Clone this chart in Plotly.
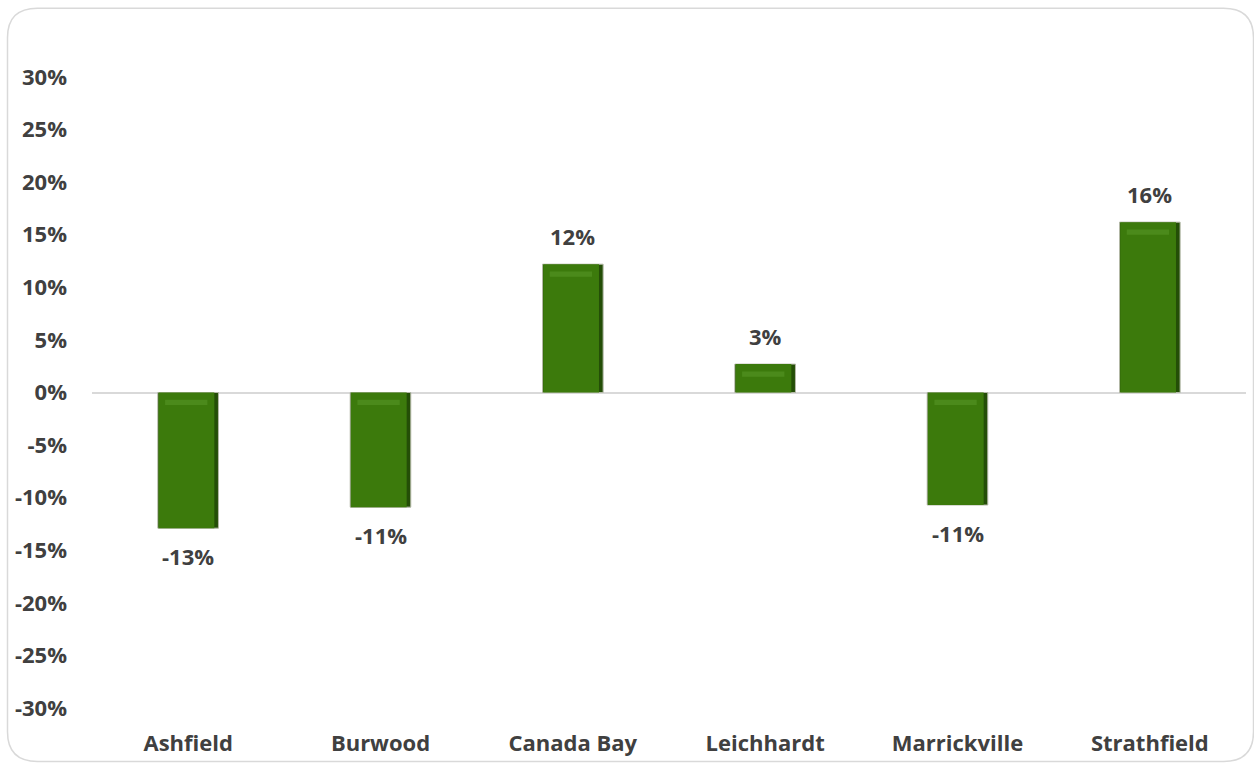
import plotly.graph_objects as go

# Change by council area
councils = ["Ashfield", "Burwood", "Canada Bay", "Leichhardt", "Marrickville", "Strathfield"]
change = [-0.129, -0.109, 0.122, 0.027, -0.107, 0.162]

# Value-axis ticks
tick_values = [-0.30, -0.25, -0.20, -0.15, -0.10, -0.05, 0.0, 0.05, 0.10, 0.15, 0.20, 0.25, 0.30]
tick_labels = ["-30%", "-25%", "-20%", "-15%", "-10%", "-5%", "0%", "5%", "10%", "15%", "20%", "25%", "30%"]

W, H = 1254, 765
ML, MR, MT, MB = 92, 8, 77, 51
FONT = "Open Sans"
TEXT_COL = "#404040"
FS = 22

fig = go.Figure()

# Dark body of each bar (shows as the shaded right-hand edge)
fig.add_trace(go.Bar(
    x=councils, y=change,
    width=0.315, offset=-0.1575,
    marker=dict(color="#244e07", line=dict(color="#b4b8a8", width=1)),
    hoverinfo="skip", showlegend=False,
))
# Lighter face of each bar
fig.add_trace(go.Bar(
    x=councils, y=change,
    width=0.29, offset=-0.154,
    marker=dict(color="#3c7a0c", line=dict(width=0)),
    hoverinfo="skip", showlegend=False,
))
# Soft highlight just inside the upper end of each bar (bevel look)
band = 0.005
fig.add_trace(go.Bar(
    x=councils, y=[band] * len(change),
    base=[max(v, 0) - 0.012 for v in change],
    width=0.22, offset=-0.12,
    marker=dict(color="#4f8f1f", line=dict(width=0)), opacity=0.8,
    hoverinfo="skip", showlegend=False,
))

# Value labels above positive bars and below negative bars
for name, v in zip(councils, change):
    fig.add_annotation(
        x=name, y=v, text=f"{round(v * 100):d}%",
        showarrow=False, yshift=28 if v >= 0 else -28,
        font=dict(family=FONT, size=FS, color=TEXT_COL, weight="bold"),
    )

# Rounded chart border, expressed in paper coordinates
pw, ph = W - ML - MR, H - MT - MB


def px(x):
    return (x - ML) / pw


def py(y):
    return (H - MB - y) / ph


x0, y0, x1, y1, r = 7.5, 7.5, 1253.5, 768, 30
path = (
    f"M {px(x0 + r)},{py(y0)} L {px(x1 - r)},{py(y0)} "
    f"Q {px(x1)},{py(y0)} {px(x1)},{py(y0 + r)} "
    f"L {px(x1)},{py(y1 - r)} Q {px(x1)},{py(y1)} {px(x1 - r)},{py(y1)} "
    f"L {px(x0 + r)},{py(y1)} Q {px(x0)},{py(y1)} {px(x0)},{py(y1 - r)} "
    f"L {px(x0)},{py(y0 + r)} Q {px(x0)},{py(y0)} {px(x0 + r)},{py(y0)} Z"
)
fig.add_shape(type="path", path=path, xref="paper", yref="paper",
              line=dict(color="#d9d9d9", width=1.5), layer="below")

fig.update_layout(
    width=W, height=H, autosize=False,
    margin=dict(l=ML, r=MR, t=MT, b=MB),
    paper_bgcolor="white", plot_bgcolor="white",
    barmode="overlay",
    font=dict(family=FONT, size=FS, color=TEXT_COL, weight="bold"),
    xaxis=dict(
        type="category", showgrid=False, showline=False, zeroline=False,
        ticks="", ticklabelstandoff=20,
        tickfont=dict(family=FONT, size=FS, color=TEXT_COL, weight="bold"),
    ),
    yaxis=dict(
        range=[-0.30, 0.30], tickvals=tick_values, ticktext=tick_labels,
        showgrid=False, showline=False, ticks="",
        zeroline=True, zerolinecolor="#d9d9d9", zerolinewidth=1.5,
        ticklabelstandoff=24,
        tickfont=dict(family=FONT, size=FS, color=TEXT_COL, weight="bold"),
    ),
)

fig.write_html("out.html")
